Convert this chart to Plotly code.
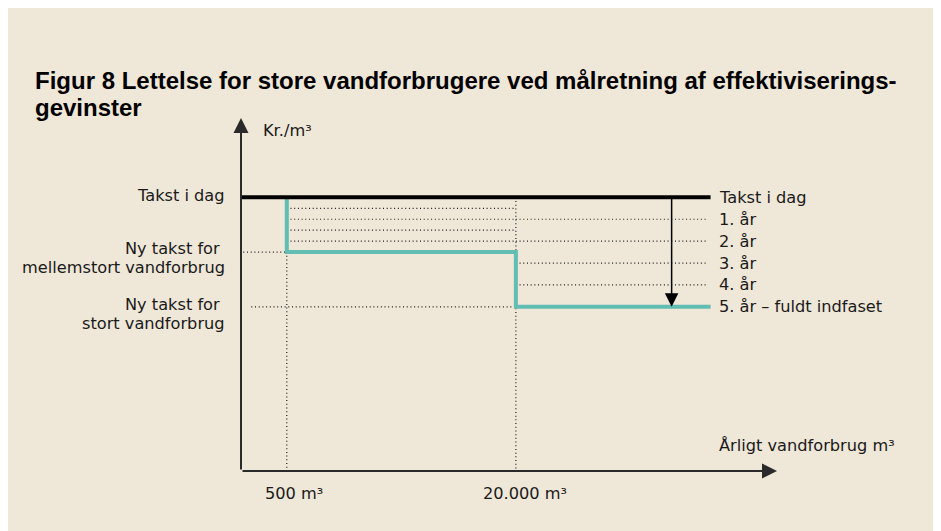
import plotly.graph_objects as go

# ---- data (schematic units) ----
tick_labels = ["500 m³", "20.000 m³"]
tick_pos = [2, 12]                 # 500 m³ and 20.000 m³ thresholds
takst_today = 10
takst_medium = 8
takst_large = 6
medium_steps = [10, 9.6, 9.2, 8.8, 8.4, 8.0]   # yearly tariff, medium consumers
large_steps = [10, 9.2, 8.4, 7.6, 6.8, 6.0]    # yearly tariff, large consumers
right_labels = ["Takst i dag", "1. år", "2. år", "3. år", "4. år", "5. år – fuldt indfaset"]
left_labels = [["Takst i dag"],
               ["Ny takst for\u00a0", "mellemstort vandforbrug"],
               ["Ny takst for\u00a0", "stort vandforbrug"]]
title_lines = ["Figur 8 Lettelse for store vandforbrugere ved målretning af effektiviserings-", "gevinster"]
x_end = 20.5
arrow_x = 18.8
x_max = 23.4
y_max = 12.9

BG = "#EFE7D8"
TEAL = "#62BDB2"
DOT = "1px,2.7px"
FONT = "DejaVu Sans"
FS = 16.2

# plot area fixed at 536 x 353 px; figure oversized so the background fills the window
L, T, PW, PH = 233, 110, 536, 353
W, H = 960, 545
R, B = W - L - PW, H - T - PH
pw, ph = PW, PH

fig = go.Figure()

def seg(x, y, color="#1a1a1a", width=1.2, dash=DOT):
    fig.add_trace(go.Scatter(x=x, y=y, mode="lines", hoverinfo="skip",
                             line=dict(color=color, width=width, dash=dash),
                             showlegend=False))

# dotted yearly steps
for v in medium_steps[1:-1]:
    seg([tick_pos[0], tick_pos[1]], [v, v])
for v in large_steps[1:-1]:
    seg([tick_pos[1], x_end - 0.15], [v, v])
# dotted reference lines
seg([0.1, tick_pos[0]], [takst_medium, takst_medium])
seg([0.45, tick_pos[1]], [takst_large, takst_large])
seg([tick_pos[0], tick_pos[0]], [takst_medium, 0])
seg([tick_pos[1], tick_pos[1]], [takst_today, 0])

# new tariff (teal step line)
seg([tick_pos[0], tick_pos[0], tick_pos[1], tick_pos[1], x_end],
    [takst_today, takst_medium, takst_medium, takst_large, takst_large],
    color=TEAL, width=4, dash="solid")
# today's tariff
seg([0, x_end], [takst_today, takst_today], color="#000000", width=4, dash="solid")

ann = []
# axes with arrows
ann.append(dict(x=0, y=y_max, ax=0, ay=0, xref="x", yref="y", axref="x", ayref="y",
                text="", showarrow=True, arrowhead=2, arrowsize=1.5, arrowwidth=2,
                arrowcolor="#2a2a2a", standoff=0))
ann.append(dict(x=x_max, y=0, ax=0, ay=0, xref="x", yref="y", axref="x", ayref="y",
                text="", showarrow=True, arrowhead=2, arrowsize=1.5, arrowwidth=2,
                arrowcolor="#2a2a2a", standoff=0))
# phase-in arrow
ann.append(dict(x=arrow_x, y=takst_large, ax=arrow_x, ay=takst_today, xref="x", yref="y",
                axref="x", ayref="y", text="", showarrow=True, arrowhead=2,
                arrowsize=1.8, arrowwidth=1.5, arrowcolor="#000000", standoff=0))

tf = dict(family=FONT, size=FS, color="#1a1a1a")
# right labels
right_vals = [takst_today] + large_steps[1:]
for lab, v in zip(right_labels, right_vals):
    ann.append(dict(x=x_end, y=v, xref="x", yref="y", text=lab, showarrow=False,
                    xanchor="left", yanchor="middle", xshift=6, font=tf))
# left labels (one annotation per line)
left_vals = [takst_today, takst_medium, takst_large]
left_shifts = [[2], [4, -15], [2, -17]]
for lines, v, shifts in zip(left_labels, left_vals, left_shifts):
    for lab, ys in zip(lines, shifts):
        ann.append(dict(x=0, y=v, xref="x", yref="y", text=lab, showarrow=False,
                        xanchor="right", yanchor="middle", align="right", xshift=-14,
                        yshift=ys, font=tf))
# tick labels
for lab, p, xs in zip(tick_labels, tick_pos, [7, 9]):
    ann.append(dict(x=p, y=0, xref="x", yref="y", text=lab, showarrow=False,
                    xanchor="center", yanchor="middle", xshift=xs, yshift=-22, font=tf))
# axis titles
ann.append(dict(x=0, y=y_max, xref="x", yref="y", text="Kr./m³", showarrow=False,
                xanchor="left", yanchor="middle", xshift=20, yshift=-12, font=tf))
ann.append(dict(x=x_max, y=0, xref="x", yref="y", text="Årligt vandforbrug m³", showarrow=False,
                xanchor="left", yanchor="middle", xshift=-60, yshift=26, font=tf))

# title (two lines, positioned in figure pixels)
for line, cy in zip(title_lines, [72, 100]):
    ann.append(dict(x=(25 - L) / pw, y=(T + PH - cy) / ph, xref="paper", yref="paper",
                    text="<b>" + line + "</b>", showarrow=False, xanchor="left",
                    yanchor="middle", align="left",
                    font=dict(family="Liberation Sans", size=24, color="#000000")))

fig.update_layout(
    width=W, height=H, margin=dict(l=L, r=R, t=T, b=B),
    paper_bgcolor=BG, plot_bgcolor="rgba(0,0,0,0)",
    xaxis=dict(range=[0, x_max], visible=False, fixedrange=True),
    yaxis=dict(range=[0, y_max], visible=False, fixedrange=True),
    annotations=ann, showlegend=False,
)

fig.write_html("out.html", config={"displayModeBar": False},
               post_script="document.documentElement.style.overflow='hidden';"
                           "document.body.style.overflow='hidden';")
